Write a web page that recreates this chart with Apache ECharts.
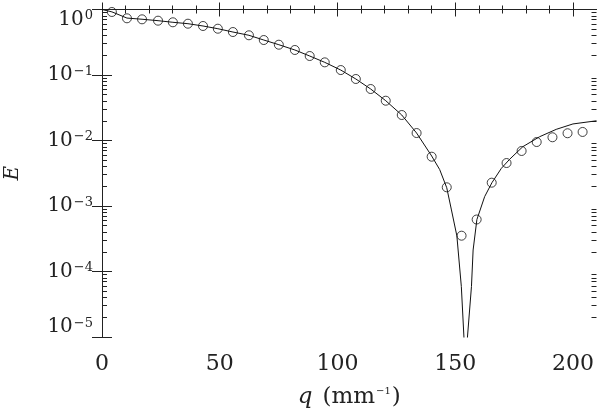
<!DOCTYPE html>
<html>
<head>
<meta charset="utf-8">
<script src="https://cdn.jsdelivr.net/npm/echarts@6/dist/echarts.min.js"></script>
<style>
  html, body { margin: 0; padding: 0; background: #fff; }
  #chart { width: 601px; height: 413px; }
</style>
</head>
<body>
<div id="chart"></div>
<script>
// measured points (circles)
var circleQ = [4.2, 10.6, 17.0, 23.8, 30.1, 36.5, 42.9, 49.2, 55.6, 62.4, 68.7, 75.1, 81.9, 88.2, 94.6, 101.4,
    107.8, 114.1, 120.5, 127.3, 133.6, 140.0, 146.4, 152.7, 159.1, 165.5, 171.8, 178.2, 184.6, 191.3, 197.7, 204.1];
var circleE = [0.916, 0.734, 0.708, 0.675, 0.638, 0.607, 0.560, 0.509, 0.453, 0.404, 0.342, 0.290, 0.241, 0.195, 0.156, 0.119,
    0.0869, 0.0611, 0.0405, 0.0245, 0.0130, 0.00566, 0.00193, 0.000352, 0.000622, 0.00227, 0.00453, 0.00692, 0.00948, 0.0112, 0.0129, 0.0135];

// theory curve (solid line)
var curveQ = [0, 4.2, 10.6, 17.0, 23.8, 30.1, 36.5, 42.9, 49.2, 55.6, 62.4, 68.7, 75.1, 81.9, 88.2, 94.6, 101.4,
    107.8, 114.1, 120.5, 127.3, 133.6, 140.0, 143.4, 146.4, 148.4, 150.7, 152.6, 153.7, 154.4, 155.2, 156.9, 157.6,
    159.2, 162.5, 165.6, 169.6, 173.1, 178.7, 185.8, 192.9, 200.0, 210.0];
var curveE = [1.0, 0.92, 0.74, 0.71, 0.675, 0.638, 0.607, 0.560, 0.509, 0.453, 0.404, 0.342, 0.290, 0.241, 0.195, 0.156, 0.119,
    0.0869, 0.0611, 0.0405, 0.0245, 0.0130, 0.0058, 0.0036, 0.0019, 0.00087, 0.00035, 0.000059, 0.00001, 0.0000001, 0.00001, 0.000059, 0.000213,
    0.00062, 0.00139, 0.00227, 0.00376, 0.00516, 0.00804, 0.0114, 0.0148, 0.0179, 0.0200];

var xMajor = [0, 50, 100, 150, 200];
var xMinor = [10, 20, 30, 40, 60, 70, 80, 90, 110, 120, 130, 140, 160, 170, 180, 190];
var yDecades = [0, -1, -2, -3, -4, -5];
var yLabelsMid = [-1, -2, -3, -4];

var yMinor = [];
yDecades.forEach(function (d) {
    if (d === 0) return;
    for (var k = 2; k <= 9; k++) {
        yMinor.push(d + Math.log10(k));
    }
});

var ink = '#222';
var font = 'DejaVu Serif';

function tickAxis(pos, vals, len, showLine) {
    var vertical = pos === 'left' || pos === 'right';
    return {
        type: 'value',
        position: pos,
        min: vertical ? -5 : 0,
        max: vertical ? 0 : 210,
        axisLine: { show: showLine, lineStyle: { color: ink, width: 1 } },
        axisTick: { show: true, inside: true, length: len, customValues: vals, lineStyle: { color: ink, width: 1 } },
        axisLabel: { show: false },
        splitLine: { show: false }
    };
}

// axis that only carries decade labels like 10^-3
function labelAxis(vals, vAlign) {
    return {
        type: 'value', position: 'left', min: -5, max: 0,
        axisLine: { show: false },
        axisTick: { show: false },
        axisLabel: {
            show: true,
            customValues: vals,
            margin: 9,
            verticalAlign: vAlign,
            formatter: function (v) {
                var e = v === 0 ? '0' : '−' + (-v);
                return '{b|10}{s|' + e + '}';
            },
            rich: {
                b: { fontFamily: font, fontSize: 20, lineHeight: 20, color: ink, verticalAlign: 'bottom' },
                s: { fontFamily: font, fontSize: 13, lineHeight: 13, color: ink, verticalAlign: 'top', padding: [0, 0, 0, 1] }
            }
        },
        splitLine: { show: false }
    };
}

var xAxes = [
    {
        type: 'value', position: 'bottom', min: 0, max: 210,
        name: '{i|q}   {n|(mm}{s|−1}{n|)}',
        nameLocation: 'middle',
        nameGap: 49,
        nameTextStyle: {
            rich: {
                i: { fontFamily: font, fontStyle: 'italic', fontSize: 23, color: ink },
                n: { fontFamily: font, fontSize: 23, color: ink },
                s: { fontFamily: font, fontSize: 10, color: ink, padding: [0, 1, 12, 1] }
            }
        },
        axisLine: { show: true, lineStyle: { color: ink, width: 1 } },
        axisTick: { show: true, inside: true, length: 7, customValues: xMajor, lineStyle: { color: ink } },
        axisLabel: { show: true, customValues: xMajor, margin: 16, fontFamily: font, fontSize: 22, color: ink },
        splitLine: { show: false }
    },
    tickAxis('bottom', xMinor, 4, false),
    tickAxis('top', xMajor, 7, true),
    tickAxis('top', xMinor, 4, false)
];

var yAxes = [
    {
        type: 'log', position: 'left', min: 1e-5, max: 1, logBase: 10,
        name: 'E',
        nameLocation: 'middle',
        nameGap: 79,
        nameTextStyle: { fontFamily: font, fontStyle: 'italic', fontSize: 20, color: ink },
        axisLine: { show: true, lineStyle: { color: ink, width: 1 } },
        axisTick: { show: false },
        axisLabel: { show: false },
        splitLine: { show: false }
    },
    tickAxis('left', yDecades, 10, false),
    tickAxis('left', yMinor, 5, false),
    tickAxis('right', yDecades, 10, true),
    tickAxis('right', yMinor, 5, false),
    labelAxis(yLabelsMid, 'middle'),
    labelAxis([0], 'top'),
    labelAxis([-5], 'bottom')
];

var chart = echarts.init(document.getElementById('chart'), null, { renderer: 'canvas' });

chart.setOption({
    animation: false,
    backgroundColor: '#fff',
    grid: { left: 102, right: 4.5, top: 9.5, bottom: 76, containLabel: false, outerBoundsMode: 'none' },
    xAxis: xAxes,
    yAxis: yAxes,
    series: [
        {
            type: 'line',
            xAxisIndex: 0,
            yAxisIndex: 0,
            data: curveQ.map(function (q, i) { return [q, curveE[i]]; }),
            showSymbol: false,
            smooth: false,
            clip: true,
            lineStyle: { color: '#111', width: 1 },
            z: 2
        },
        {
            type: 'scatter',
            xAxisIndex: 0,
            yAxisIndex: 0,
            data: circleQ.map(function (q, i) { return [q, circleE[i]]; }),
            symbol: 'circle',
            symbolSize: 9,
            itemStyle: { color: 'rgba(0,0,0,0)', borderColor: '#111', borderWidth: 1 },
            z: 3
        }
    ]
});
</script>
</body>
</html>
